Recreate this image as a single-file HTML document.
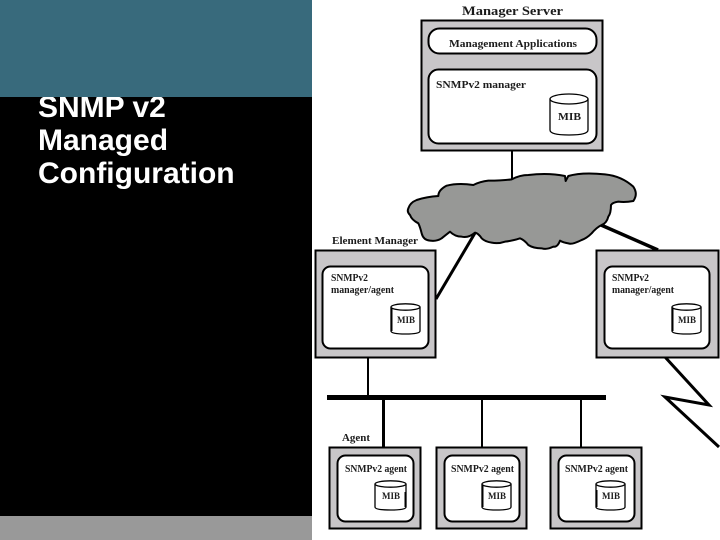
<!DOCTYPE html>
<html>
<head>
<meta charset="utf-8">
<style>
html,body{margin:0;padding:0;background:#fff;}
body{width:720px;height:540px;overflow:hidden;}
svg{display:block;}
.t{font-family:"Liberation Serif",serif;font-weight:bold;fill:#1c1c1c;}
.s{font-family:"Liberation Sans",sans-serif;font-weight:bold;font-size:30px;fill:#fff;}
.box{fill:#c8c6c8;stroke:#000;stroke-width:2;}
.in{fill:#fff;stroke:#000;stroke-width:2;}
.cy{fill:#fff;stroke:#000;stroke-width:1.3;}
</style>
</head>
<body>
<svg width="720" height="540" viewBox="0 0 720 540" xmlns="http://www.w3.org/2000/svg">
<defs><filter id="b" filterUnits="userSpaceOnUse" x="300" y="0" width="440" height="540"><feGaussianBlur stdDeviation="0.35"/></filter></defs>
<rect width="720" height="540" fill="#fff"/>
<rect x="0" y="97" width="312" height="419" fill="#000"/>
<text class="s" x="38" y="117">SNMP v2</text>
<text class="s" x="38" y="150">Managed</text>
<text class="s" x="38" y="183">Configuration</text>
<rect x="0" y="0" width="312" height="97" fill="#386a7c"/>
<rect x="0" y="516" width="312" height="24" fill="#999"/>

<g filter="url(#b)">
<!-- connectors -->
<g stroke="#000" fill="none">
<line x1="512" y1="150" x2="512" y2="186" stroke-width="2"/>
<line x1="475" y1="233" x2="436" y2="299" stroke-width="3"/>
<line x1="601" y1="225" x2="658" y2="250" stroke-width="3.5"/>
<polyline points="665,357 709,405 665,397 719,447" stroke-width="3"/>
<line x1="368" y1="357" x2="368" y2="397" stroke-width="2"/>
<line x1="327" y1="397.5" x2="606" y2="397.5" stroke-width="5"/>
<line x1="383.5" y1="397" x2="383.5" y2="447" stroke-width="3"/>
<line x1="482" y1="397" x2="482" y2="447" stroke-width="2"/>
<line x1="581" y1="397" x2="581" y2="447" stroke-width="2"/>
</g>

<!-- cloud -->
<path transform="translate(405,170) scale(0.3333)" fill="#979896" stroke="#000" stroke-width="6" stroke-linejoin="round"
d="M10 115 Q15 98 35 90 Q65 80 100 78 Q100 60 125 47 Q160 38 205 45 Q225 35 250 32 Q290 32 320 28 Q345 15 370 15 Q430 8 480 18 L482 33 L490 18 Q530 6 600 13 Q650 18 685 50 Q700 72 685 93 Q660 98 640 95 Q622 98 618 105 Q618 130 610 140 Q605 160 590 165 Q575 172 560 190 Q545 205 530 210 Q500 225 490 220 Q475 218 465 212 Q458 232 445 230 Q425 240 410 235 Q385 235 370 225 Q358 210 345 205 Q325 212 300 215 Q280 222 260 218 Q240 215 230 205 Q220 190 210 188 Q190 205 170 200 Q150 200 135 185 Q122 195 110 205 Q95 215 75 212 Q55 210 50 190 Q45 170 40 160 Q20 150 15 135 Q5 125 10 115 Z"/>

<!-- Manager server -->
<text class="t" x="462" y="15" font-size="13" textLength="101" lengthAdjust="spacingAndGlyphs">Manager Server</text>
<rect class="box" x="421.5" y="20.5" width="181" height="130"/>
<rect class="in" x="428.5" y="28.5" width="168" height="25" rx="11"/>
<text class="t" x="449" y="47" font-size="10.5" textLength="128" lengthAdjust="spacingAndGlyphs">Management Applications</text>
<rect class="in" x="428.5" y="69.5" width="168" height="74" rx="10"/>
<text class="t" x="436" y="88" font-size="10.5" textLength="90" lengthAdjust="spacingAndGlyphs">SNMPv2 manager</text>
<path class="cy" stroke-width="2" d="M550 99 V130 Q550 135 569 135 Q588 135 588 130 V99"/>
<ellipse class="cy" cx="569" cy="99" rx="19" ry="5" stroke-width="2"/>
<text class="t" x="558" y="120" font-size="10.5" textLength="23" lengthAdjust="spacingAndGlyphs">MIB</text>

<!-- Element manager -->
<text class="t" x="332" y="244" font-size="10.5" textLength="86" lengthAdjust="spacingAndGlyphs">Element Manager</text>
<rect class="box" x="315.5" y="250.5" width="120" height="107"/>
<rect class="in" x="322.5" y="266.5" width="106" height="82" rx="8"/>
<text class="t" x="331" y="281" font-size="10" textLength="37" lengthAdjust="spacingAndGlyphs">SNMPv2</text>
<text class="t" x="331" y="293" font-size="10" textLength="63" lengthAdjust="spacingAndGlyphs">manager/agent</text>
<path class="cy" d="M391 307 V331 Q391 334 405.5 334 Q420 334 420 331 V307"/>
<ellipse class="cy" cx="405.5" cy="307" rx="14.5" ry="3.2"/>
<line x1="391.5" y1="308" x2="391.5" y2="331" stroke="#000" stroke-width="2"/>
<text class="t" x="397" y="323" font-size="9" textLength="18" lengthAdjust="spacingAndGlyphs">MIB</text>

<!-- Right box -->
<rect class="box" x="596.5" y="250.5" width="122" height="107"/>
<rect class="in" x="604.5" y="266.5" width="105" height="82" rx="8"/>
<text class="t" x="612" y="281" font-size="10" textLength="37" lengthAdjust="spacingAndGlyphs">SNMPv2</text>
<text class="t" x="612" y="293" font-size="10" textLength="62" lengthAdjust="spacingAndGlyphs">manager/agent</text>
<path class="cy" d="M672 307 V331 Q672 334 686.5 334 Q701 334 701 331 V307"/>
<ellipse class="cy" cx="686.5" cy="307" rx="14.5" ry="3.2"/>
<line x1="672.5" y1="308" x2="672.5" y2="331" stroke="#000" stroke-width="2"/>
<text class="t" x="678" y="323" font-size="9" textLength="18" lengthAdjust="spacingAndGlyphs">MIB</text>

<!-- Agents -->
<text class="t" x="342" y="441" font-size="10.5" textLength="28" lengthAdjust="spacingAndGlyphs">Agent</text>

<rect class="box" x="329.5" y="447.5" width="91" height="81"/>
<rect class="in" x="337.5" y="455.5" width="76" height="66" rx="8"/>
<text class="t" x="345" y="472" font-size="10" textLength="62" lengthAdjust="spacingAndGlyphs">SNMPv2 agent</text>
<path class="cy" d="M375 484 V507 Q375 510 390.5 510 Q406 510 406 507 V484"/>
<ellipse class="cy" cx="390.5" cy="484" rx="15.5" ry="3.2"/>
<line x1="405.5" y1="492" x2="405.5" y2="507" stroke="#000" stroke-width="2"/>
<text class="t" x="382" y="499" font-size="9" textLength="18" lengthAdjust="spacingAndGlyphs">MIB</text>

<rect class="box" x="436.5" y="447.5" width="90" height="81"/>
<rect class="in" x="444.5" y="455.5" width="75" height="66" rx="8"/>
<text class="t" x="451" y="472" font-size="10" textLength="63" lengthAdjust="spacingAndGlyphs">SNMPv2 agent</text>
<path class="cy" d="M482 484 V507 Q482 510 496.5 510 Q511 510 511 507 V484"/>
<ellipse class="cy" cx="496.5" cy="484" rx="14.5" ry="3.2"/>
<line x1="482.5" y1="485" x2="482.5" y2="507" stroke="#000" stroke-width="2"/>
<text class="t" x="488" y="499" font-size="9" textLength="18" lengthAdjust="spacingAndGlyphs">MIB</text>

<rect class="box" x="550.5" y="447.5" width="91" height="81"/>
<rect class="in" x="558.5" y="455.5" width="76" height="66" rx="8"/>
<text class="t" x="565" y="472" font-size="10" textLength="63" lengthAdjust="spacingAndGlyphs">SNMPv2 agent</text>
<path class="cy" d="M596 484 V507 Q596 510 610.5 510 Q625 510 625 507 V484"/>
<ellipse class="cy" cx="610.5" cy="484" rx="14.5" ry="3.2"/>
<line x1="596.5" y1="490" x2="596.5" y2="507" stroke="#000" stroke-width="2"/>
<text class="t" x="602" y="499" font-size="9" textLength="18" lengthAdjust="spacingAndGlyphs">MIB</text>
</g>
</svg>
</body>
</html>
